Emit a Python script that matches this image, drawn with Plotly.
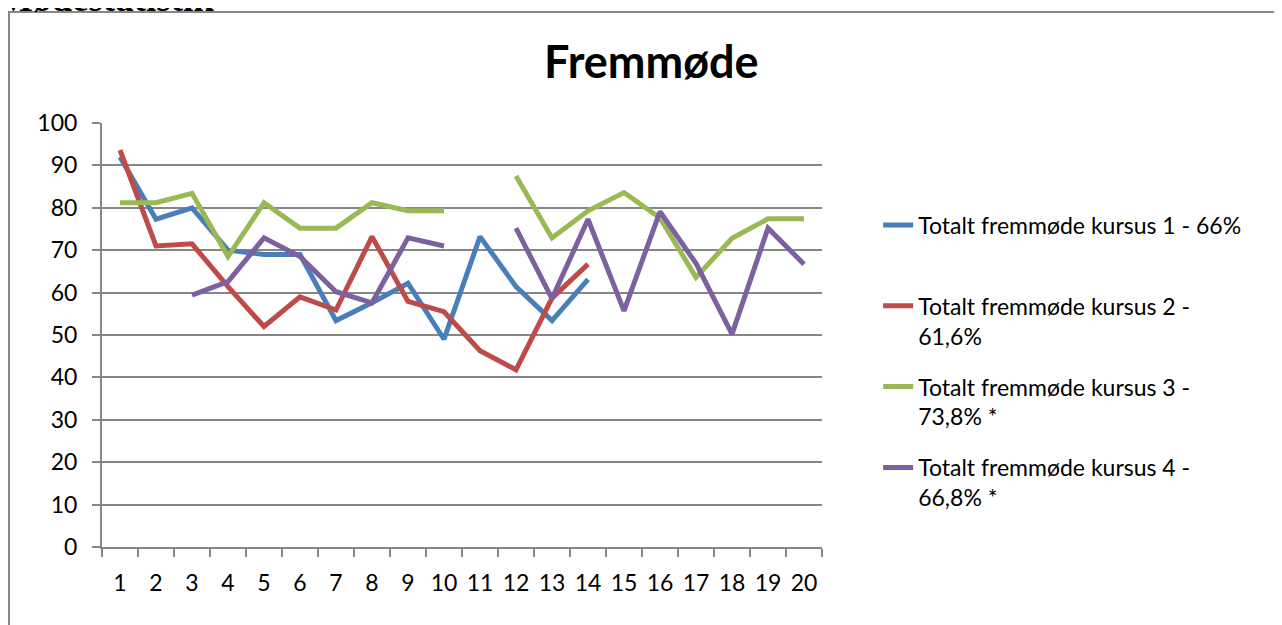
import plotly.graph_objects as go

# Session numbers (x axis categories)
sessions = [str(i) for i in range(1, 21)]

# Attendance in percent per session, None = no session
kursus_1 = [92, 77.3, 80, 70, 69, 69, 53.4, 57.6, 62.2, 49,
            73.2, 61.4, 53.4, 63.1, None, None, None, None, None, None]
kursus_2 = [93.6, 71, 71.5, 61.4, 52, 59, 55.9, 73.2, 57.9, 55.5,
            46.3, 41.8, 58.7, 66.7, None, None, None, None, None, None]
kursus_3 = [81.2, 81.2, 83.4, 68.5, 81.2, 75.2, 75.2, 81.2, 79.3, 79.3,
            None, 87.5, 72.9, 79.3, 83.6, 77.6, 63.6, 72.8, 77.4, 77.4]
kursus_4 = [None, None, 59.4, 62.6, 72.9, 68.5, 60.2, 57.6, 72.9, 71,
            None, 75.2, 58.6, 77.3, 55.7, 79.1, 66.9, 50.2, 75.2, 66.7]

names = [
    "Totalt fremmøde kursus 1 - 66%<br> ",
    "Totalt fremmøde kursus 2 -<br>61,6%",
    "Totalt fremmøde kursus 3 -<br>73,8% *",
    "Totalt fremmøde kursus 4 -<br>66,8% *",
]
colors = ["#4a7ebb", "#be4b48", "#98b954", "#7d60a0"]

fig = go.Figure()

for i, (values, name, color) in enumerate(zip([kursus_1, kursus_2, kursus_3, kursus_4], names, colors)):
    fig.add_trace(go.Scatter(
        x=sessions,
        y=values,
        mode="lines",
        name=name,
        legendgroup=str(i),
        line=dict(color=color, width=5),
        connectgaps=False,
    ))

font = "Lato, Carlito, Calibri, sans-serif"

# the page adds an 8px body margin, so the margins are 8px smaller
fig.update_layout(
    width=1282,
    height=625,
    margin=dict(l=94, r=468, t=115, b=86, autoexpand=False),
    paper_bgcolor="white",
    plot_bgcolor="white",
    font=dict(family=font, size=23, color="black"),
    showlegend=True,
    legend=dict(
        x=1.078, y=0.81, xanchor="left", yanchor="top",
        valign="top", tracegroupgap=18,
        font=dict(family=font, size=23, color="black"),
        itemwidth=30,
    ),
    xaxis=dict(
        type="category",
        showgrid=False,
        showline=True, linecolor="#868686", linewidth=2,
        ticks="outside", tickson="boundaries", ticklen=8,
        tickcolor="#868686", tickwidth=2,
        tickangle=0,
        ticklabelstandoff=14,
        range=[-0.5, 19.5],
        automargin=False,
    ),
    yaxis=dict(
        range=[0, 100], dtick=10,
        showgrid=True, gridcolor="#868686", gridwidth=2,
        showline=True, linecolor="#868686", linewidth=2,
        ticks="outside", ticklen=8, tickcolor="#868686", tickwidth=2,
        ticklabelstandoff=10,
        zeroline=False,
        automargin=False,
    ),
)

# Chart title
fig.add_annotation(
    text="<b>Fremmøde</b>", xref="paper", yref="paper",
    x=0.7625, y=1.147, xanchor="center", yanchor="middle",
    showarrow=False, font=dict(family=font, size=45, color="black"),
)

# Heading of the document above the chart, cut off at the top
fig.add_annotation(
    text="<b>Mødestatistik</b>", xref="paper", yref="paper",
    x=-0.147, y=1.2945, xanchor="left", yanchor="middle",
    showarrow=False, font=dict(family="Liberation Serif, serif", size=37, color="black"),
)

# Frame of the embedded chart
fig.add_shape(
    type="rect", xref="paper", yref="paper",
    x0=-0.1292, x1=1.8, y0=-0.3, y1=1.2618,
    line=dict(color="#888888", width=2),
)

fig.write_html("out.html")
